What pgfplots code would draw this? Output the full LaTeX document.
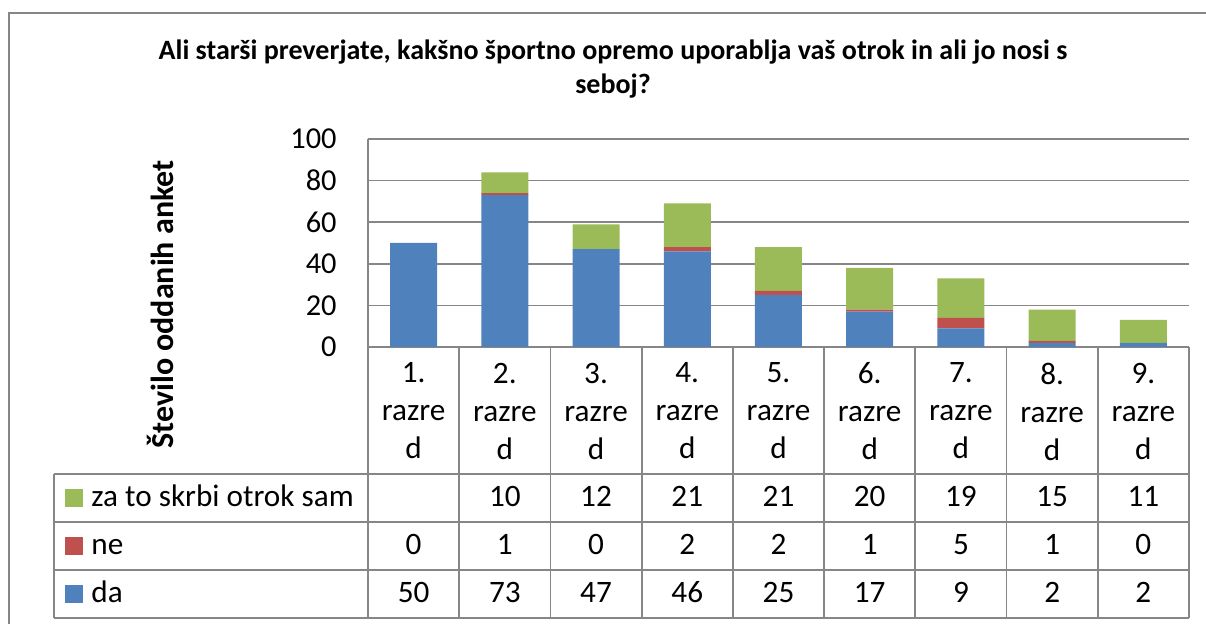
\documentclass[border=0pt]{standalone}
\usepackage{pgfplots}
\pgfplotsset{compat=1.18}
\usepackage{fontspec}
\setmainfont{Carlito}
\definecolor{cda}{HTML}{4F81BD}
\definecolor{cne}{HTML}{C0504D}
\definecolor{cza}{HTML}{9BBB59}
\definecolor{gl}{HTML}{868686}
\newcommand{\tf}{\fontsize{15.6}{19}\selectfont}
\begin{document}
\begin{tikzpicture}
\useasboundingbox (0,0) rectangle (603pt,-312pt);
\draw[gl, line width=0.9pt] (4.5pt,-313pt) -- (4.5pt,-6.5pt) -- (604pt,-6.5pt);
\node[font=\fontsize{14}{17}\selectfont\bfseries, anchor=base] at (306.5pt,-30pt) {Ali starši preverjate, kakšno športno opremo uporablja vaš otrok in ali jo nosi s};
\node[font=\fontsize{14}{17}\selectfont\bfseries, anchor=base] at (306.5pt,-47pt) {seboj?};
\begin{axis}[
  at={(184pt,-173.5pt)}, anchor=south west,
  scale only axis, width=410.5pt, height=104pt,
  ybar stacked, bar width=23.5pt,
  xmin=-0.5, xmax=8.5, ymin=0, ymax=100,
  ytick={0,20,40,60,80,100},
  xtick={0,1,2,3,4,5,6,7,8},
  xticklabels={{1.\\razre\\d},{2.\\razre\\d},{3.\\razre\\d},{4.\\razre\\d},{5.\\razre\\d},{6.\\razre\\d},{7.\\razre\\d},{8.\\razre\\d},{9.\\razre\\d}},
  xticklabel style={font=\tf, align=center, anchor=north, inner sep=0pt, yshift=-7.7pt},
  yticklabel style={font=\fontsize{15.2}{18}\selectfont, anchor=east, inner sep=0pt, xshift=-15.5pt},
  /pgf/number format/assume math mode=true,
  ymajorgrids, grid style={gl, line width=0.75pt},
  axis x line*=bottom, axis y line*=left,
  axis line style={gl, line width=0.9pt, -},
  tick style={draw=none},
  ylabel={Število oddanih anket},
  ylabel style={font=\fontsize{16}{19}\selectfont\bfseries, at={(axis description cs:-0.2375,0.2043)}, anchor=base},
  clip=false,
]
\addplot[fill=cda, draw=none] coordinates {(0,50) (1,73) (2,47) (3,46) (4,25) (5,17) (6,9) (7,2) (8,2)};
\addplot[fill=cne, draw=none] coordinates {(0,0) (1,1) (2,0) (3,2) (4,2) (5,1) (6,5) (7,1) (8,0)};
\addplot[fill=cza, draw=none] coordinates {(0,0) (1,10) (2,12) (3,21) (4,21) (5,20) (6,19) (7,15) (8,11)};
\end{axis}
% data table grid
\foreach \y in {237,261,285,309} {\draw[gl, line width=0.9pt] (27pt,-\y pt) -- (594.5pt,-\y pt);}
\draw[gl, line width=0.9pt] (27pt,-237pt) -- (27pt,-309pt);
\foreach \k in {0,...,9} {\draw[gl, line width=0.9pt] ({184pt+45.611pt*\k},-173.5pt) -- ({184pt+45.611pt*\k},-309pt);}
% legend keys and names
\fill[cza] (32.5pt,-244.5pt) rectangle ++(9pt,-9pt);
\fill[cne] (32.5pt,-268.5pt) rectangle ++(9pt,-9pt);
\fill[cda] (32.5pt,-292.5pt) rectangle ++(9pt,-9pt);
\node[font=\tf, anchor=base west, inner sep=0pt] at (45.5pt,-253.5pt) {za to skrbi otrok sam};
\node[font=\tf, anchor=base west, inner sep=0pt] at (45.5pt,-277.5pt) {ne};
\node[font=\tf, anchor=base west, inner sep=0pt] at (45.5pt,-301.5pt) {da};
\foreach \v [count=\i from 0] in {{},10,12,21,21,20,19,15,11} {\node[font=\tf, anchor=base, inner sep=0pt] at ({184pt+45.611pt*(\i+0.5)},-253.5pt) {\v};}
\foreach \v [count=\i from 0] in {0,1,0,2,2,1,5,1,0} {\node[font=\tf, anchor=base, inner sep=0pt] at ({184pt+45.611pt*(\i+0.5)},-277.5pt) {\v};}
\foreach \v [count=\i from 0] in {50,73,47,46,25,17,9,2,2} {\node[font=\tf, anchor=base, inner sep=0pt] at ({184pt+45.611pt*(\i+0.5)},-301.5pt) {\v};}
\end{tikzpicture}
\end{document}
